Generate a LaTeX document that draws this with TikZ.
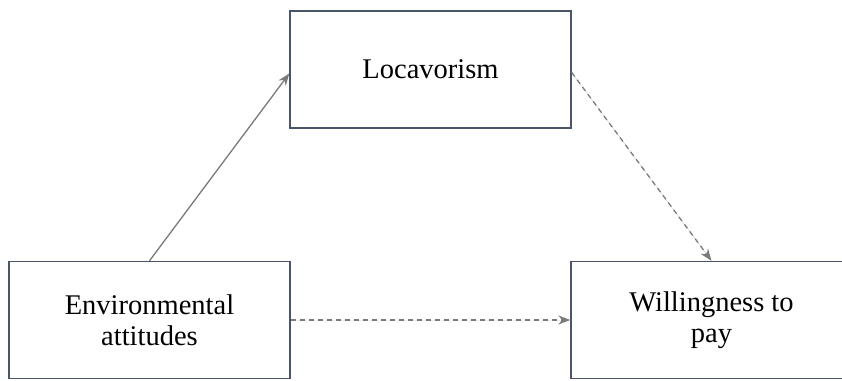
\documentclass[tikz,border=0pt]{standalone}
\usepackage{fontspec}
\setmainfont{Liberation Serif}
\usetikzlibrary{positioning,arrows.meta}
\definecolor{boxline}{HTML}{4A5568}
\definecolor{arrowgray}{HTML}{7A7A7A}
\begin{document}
\begin{tikzpicture}[
  x=1pt, y=-1pt,
  block/.style={rectangle, draw=boxline, line width=1.4pt, minimum width=281pt, minimum height=117pt, align=center, font=\fontsize{28.5}{31}\selectfont},
  link/.style={-{Stealth[length=12pt,width=9pt]}, draw=arrowgray, fill=arrowgray, line width=1.3pt},
  dashlink/.style={link, dash pattern=on 5pt off 4pt}
]
\useasboundingbox (0,0) rectangle (842,380);
\node[block] (loc) at (430.5,69.5) {Locavorism};
\node[block] (env) at (149.5,320) {Environmental\\attitudes};
\node[block] (wtp) at (711.5,320) {Willingness to\\pay};

\draw[link] (env.north) -- ([yshift=-4pt]loc.west);
\draw[dashlink] ([yshift=-3pt]loc.east) -- (wtp.north);
\draw[dashlink] (env.east) -- (wtp.west);
\end{tikzpicture}
\end{document}
